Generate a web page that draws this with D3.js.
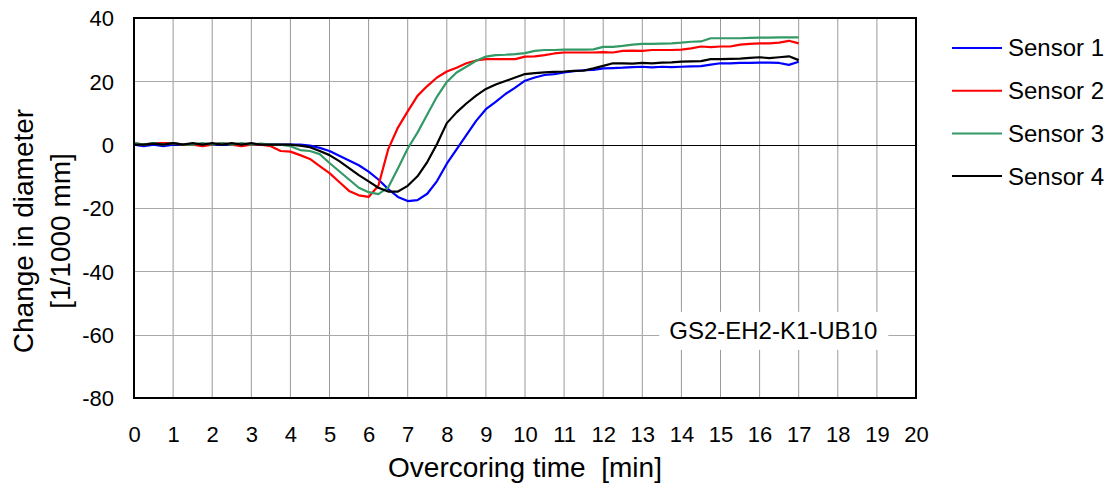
<!DOCTYPE html>
<html>
<head>
<meta charset="utf-8">
<script src="https://cdn.jsdelivr.net/npm/d3@7"></script>
<style>
    body { margin: 0; background: #fff; }
    svg { display: block; font-family: "Liberation Sans", Arial, sans-serif; }
</style>
</head>
<body>
<svg width="1115" height="487"></svg>
<script>
// sample times [min]
var time = [0, 0.25, 0.5, 0.75, 1, 1.25, 1.5, 1.75, 2, 2.25, 2.5, 2.75, 3, 3.25, 3.5, 3.75,
    4, 4.25, 4.5, 4.75, 5, 5.25, 5.5, 5.75, 6, 6.25, 6.5, 6.75, 7, 7.25, 7.5, 7.75,
    8, 8.25, 8.5, 8.75, 9, 9.25, 9.5, 9.75, 10, 10.25, 10.5, 10.75, 11, 11.25, 11.5, 11.75,
    12, 12.25, 12.5, 12.75, 13, 13.25, 13.5, 13.75, 14, 14.25, 14.5, 14.75, 15, 15.25, 15.5, 15.75,
    16, 16.25, 16.5, 16.75, 17];

var sensor1 = [0, -0.5, 0, -0.5, 0, 0, 0, 0, 0, 0, 0, 0, 0, 0, 0, 0,
    0, 0, -0.3, -1, -2, -3.5, -5, -6.5, -8.5, -11, -14, -16.5, -17.8, -17.5, -15.5, -11.5,
    -6, -1.5, 3, 7.5, 11.2, 13.5, 16, 18, 20.2, 21.2, 22, 22.3, 22.8, 23.2, 23.5, 23.6,
    24.1, 24.2, 24.3, 24.5, 24.6, 24.4, 24.6, 24.5, 24.6, 24.7, 24.8, 25.3, 25.7, 25.7, 25.8, 25.8,
    25.9, 25.9, 25.8, 25.2, 26.2];

var sensor2 = [0.5, 0, 0.5, 0.5, 0.5, 0, 0, -0.5, 0, 0.5, 0, -0.5, 0, 0, -0.5, -2,
    -2.2, -3.3, -4.5, -6.8, -9, -11.8, -14.6, -16, -16.5, -13, -1.5, 5.4, 10.5, 15.4, 18.5, 21.2,
    23.1, 24.3, 25.7, 26.6, 27, 27, 27, 27, 27.8, 27.9, 28.3, 28.8, 29.1, 29.1, 29.1, 29.1,
    29.2, 29.1, 29.6, 29.7, 29.6, 29.9, 29.9, 29.9, 30, 30.4, 31, 30.8, 31, 31, 31.6, 31.8,
    32, 32, 32.2, 32.8, 32];

var sensor3 = [0.5, 0, 0.5, 0, 0.5, 0, 0, 0.5, 0, 0.5, 0, 0.5, 0, 0.3, 0, 0,
    -0.5, -1.7, -2, -3, -5.8, -8.4, -11, -13.6, -15, -15.6, -13.5, -7.5, -1.2, 3.8, 9.5, 15.2,
    19.8, 22.8, 24.6, 26.5, 27.8, 28.3, 28.4, 28.6, 28.9, 29.6, 29.9, 29.9, 30, 30, 30, 30.1,
    30.9, 30.9, 31.2, 31.6, 31.8, 31.8, 31.9, 32, 32.2, 32.5, 32.6, 33.6, 33.6, 33.6, 33.6, 33.7,
    33.8, 33.8, 33.9, 33.9, 33.9];

var sensor4 = [0, 0, 0.3, 0, 0.5, 0, 0.5, 0, 0.5, 0, 0.5, 0, 0.5, 0, 0, 0,
    0, -0.3, -0.8, -2, -3.3, -5.2, -7.4, -9.6, -11.6, -13.6, -14.8, -14.8, -13, -10, -5.5, 0.2,
    6.8, 10.2, 13, 15.5, 17.6, 19, 20.1, 21.2, 22.3, 22.6, 22.8, 23, 23.1, 23.3, 23.4, 24.1,
    24.9, 25.7, 25.7, 25.6, 25.8, 25.7, 25.9, 26, 26.2, 26.3, 26.4, 27, 27, 27.1, 27.2, 27.4,
    27.6, 27.3, 27.6, 27.9, 26.7];

var seriesNames = ["Sensor 1", "Sensor 2", "Sensor 3", "Sensor 4"];
var seriesColors = ["#0000ff", "#ff0000", "#339966", "#000000"];
var xTicks = d3.range(0, 21, 1);
var yTicks = [-80, -60, -40, -20, 0, 20, 40];
var caseLabel = "GS2-EH2-K1-UB10";

var svg = d3.select("svg");
var margin = {left: 134, top: 18, right: 199, bottom: 89};
var width = 1115 - margin.left - margin.right;
var height = 487 - margin.top - margin.bottom;

var x = d3.scaleLinear().domain([0, 20]).range([0, width]);
var y = d3.scaleLinear().domain([-80, 40]).range([height, 0]);

var g = svg.append("g")
    .attr("transform", "translate(" + margin.left + "," + margin.top + ")");

// grid
g.append("g")
    .selectAll("line")
    .data(xTicks.slice(1, -1))
    .enter().append("line")
    .attr("x1", function(d) { return x(d); })
    .attr("x2", function(d) { return x(d); })
    .attr("y1", 0)
    .attr("y2", height)
    .attr("stroke", "#999")
    .attr("stroke-width", 1);

g.append("g")
    .selectAll("line")
    .data(yTicks.slice(1, -1))
    .enter().append("line")
    .attr("x1", 0)
    .attr("x2", width)
    .attr("y1", function(d) { return Math.round(y(d)) + 0.5; })
    .attr("y2", function(d) { return Math.round(y(d)) + 0.5; })
    .attr("stroke", function(d) { return d === 0 ? "#000" : "#aaa"; })
    .attr("stroke-width", 1);

// case label box
var labelX = x(16.35), labelY = y(-58.8);
g.append("rect")
    .attr("x", labelX - 114)
    .attr("y", labelY - 19)
    .attr("width", 229)
    .attr("height", 38)
    .attr("fill", "#fff");
g.append("text")
    .attr("x", labelX)
    .attr("y", labelY)
    .attr("dy", "0.35em")
    .attr("text-anchor", "middle")
    .style("font-size", "24px")
    .text(caseLabel);

// series
var allSeries = [sensor1, sensor2, sensor3, sensor4];
var line = d3.line()
    .x(function(d, i) { return x(time[i]); })
    .y(function(d) { return y(d); });

g.append("g")
    .selectAll("path")
    .data(allSeries)
    .enter().append("path")
    .attr("d", line)
    .attr("fill", "none")
    .attr("stroke", function(d, i) { return seriesColors[i]; })
    .attr("stroke-width", 2.2)
    .attr("stroke-linejoin", "round");

// frame
g.append("rect")
    .attr("width", width)
    .attr("height", height)
    .attr("fill", "none")
    .attr("stroke", "#000")
    .attr("stroke-width", 2);

// axes labels (plain hyphen for negatives, like the original)
var fmt = function(d) { return String(d); };

var xAxis = d3.axisBottom(x).tickValues(xTicks).tickFormat(fmt).tickSize(0).tickPadding(0);
var xg = g.append("g")
    .attr("transform", "translate(0," + height + ")")
    .call(xAxis);
xg.select(".domain").remove();
xg.selectAll("text")
    .attr("y", 44)
    .attr("dy", 0)
    .style("font-family", "Liberation Sans, Arial, sans-serif")
    .style("font-size", "22px")
    .attr("fill", "#000");

var yAxis = d3.axisLeft(y).tickValues(yTicks).tickFormat(fmt).tickSize(0).tickPadding(0);
var yg = g.append("g").call(yAxis);
yg.select(".domain").remove();
yg.selectAll("text")
    .attr("x", -20)
    .attr("dy", "0.35em")
    .style("font-family", "Liberation Sans, Arial, sans-serif")
    .style("font-size", "22px")
    .attr("fill", "#000");

svg.append("text")
    .attr("x", margin.left + x(10))
    .attr("y", 477)
    .attr("text-anchor", "middle")
    .attr("xml:space", "preserve")
    .style("font-size", "28px")
    .text("Overcoring time  [min]");

var yTitle = svg.append("text")
    .attr("transform", "translate(33," + (margin.top + height / 2 + 23) + ") rotate(-90)")
    .attr("text-anchor", "middle")
    .style("font-size", "28px");
yTitle.append("tspan").attr("x", 0).attr("y", 0).text("Change in diameter");
yTitle.append("tspan").attr("x", 0).attr("y", 37).text("[1/1000 mm]");

// legend
var legend = svg.append("g")
    .attr("transform", "translate(952,48)")
    .selectAll("g")
    .data(seriesNames)
    .enter().append("g")
    .attr("transform", function(d, i) { return "translate(0," + (i * 42.7) + ")"; });
legend.append("line")
    .attr("x1", 0)
    .attr("x2", 50)
    .attr("stroke", function(d, i) { return seriesColors[i]; })
    .attr("stroke-width", 2);
legend.append("text")
    .attr("x", 56)
    .attr("dy", "0.35em")
    .style("font-size", "24px")
    .text(function(d) { return d; });
</script>
</body>
</html>
